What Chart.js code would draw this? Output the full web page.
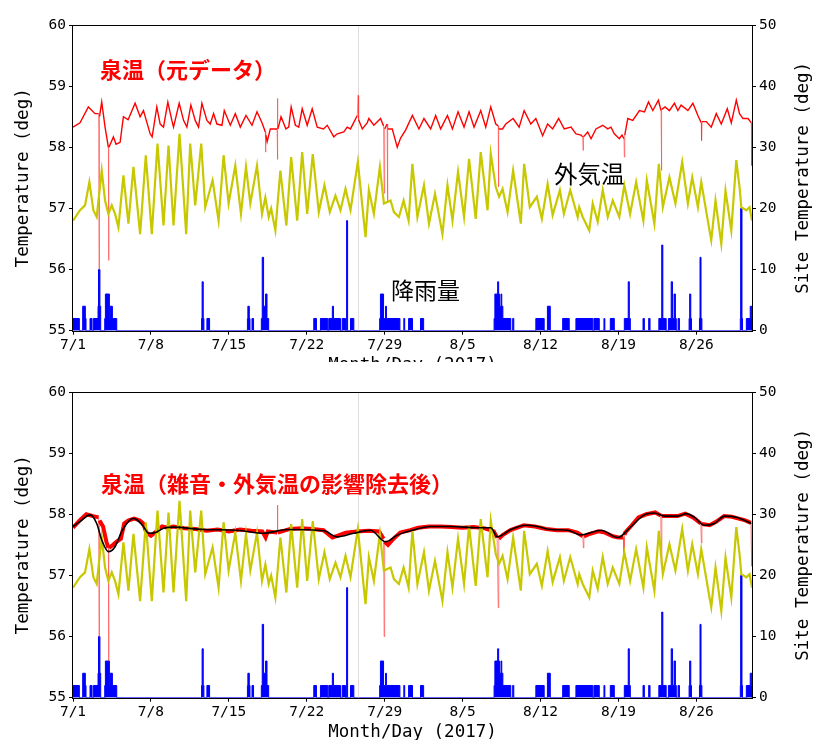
<!DOCTYPE html>
<html><head><meta charset="utf-8">
<script src="https://cdn.jsdelivr.net/npm/chart.js@4.4.1/dist/chart.umd.min.js"></script>
<style>
html,body{margin:0;padding:0;background:#fff;width:815px;height:740px;overflow:hidden}
.wrap{position:absolute;left:0;width:815px;overflow:hidden}
.lbl{position:absolute;white-space:nowrap;font-family:"Noto Sans CJK JP";line-height:1}
</style></head><body>
<div class="wrap" style="top:3px;height:359px"><canvas id="c1" width="815" height="370"></canvas></div>
<div class="wrap" style="top:370px;height:370px"><canvas id="c2" width="815" height="370"></canvas></div>
<div class="lbl" style="left:100px;top:57px;font-size:22px;font-weight:bold;color:#f00">泉温（元データ）</div>
<div class="lbl" style="left:554px;top:162px;font-size:23.5px;color:#000">外気温</div>
<div class="lbl" style="left:391px;top:278px;font-size:23px;color:#000">降雨量</div>
<div class="lbl" style="left:101px;top:471px;font-size:22px;font-weight:bold;color:#f00">泉温（雑音・外気温の影響除去後）</div>
<script>
// ---- data (x = days since 7/1/2017) ----
const tickDays = [0, 7, 14, 21, 28, 35, 42, 49, 56];
const tickLabels = ['7/1', '7/8', '7/15', '7/22', '7/29', '8/5', '8/12', '8/19', '8/26'];
const markerDay = 25.65;

// outside air temperature (right axis)
const airTemp = [
[0.00,18.0],[0.63,19.7],[1.08,20.5],[1.47,24.3],[1.83,19.7],[2.13,18.6],[2.58,26.2],[2.88,21.3],[3.18,19.1],[3.48,20.5],
[3.78,19.1],[4.08,16.9],[4.53,25.4],[4.98,17.5],[5.43,26.8],[6.03,15.8],[6.54,28.7],[7.08,15.8],[7.59,30.6],[8.13,17.2],
[8.58,30.3],[9.03,17.2],[9.57,32.2],[10.17,15.8],[10.53,30.6],[10.98,20.5],[11.52,30.6],[11.88,20.2],[12.54,24.6],[13.08,18.0],
[13.53,28.7],[13.98,20.8],[14.58,27.0],[15.09,19.1],[15.54,26.8],[15.93,20.8],[16.53,27.0],[16.98,19.1],[17.28,21.8],[17.58,18.6],
[17.80,20.0],[18.18,16.4],[18.63,26.2],[19.17,17.2],[19.60,28.4],[20.14,18.0],[20.59,29.2],[21.04,19.1],[21.54,28.9],[22.08,19.4],
[22.59,23.8],[23.07,19.4],[23.58,22.1],[24.03,19.7],[24.48,23.2],[24.93,19.7],[25.59,27.6],[26.28,15.3],[26.58,23.0],[27.03,19.1],
[27.57,26.8],[27.93,20.8],[28.53,21.3],[28.83,19.4],[29.28,18.6],[29.70,21.3],[30.15,18.0],[30.49,27.3],[30.94,18.6],[31.53,23.8],
[31.98,17.5],[32.52,22.4],[33.19,15.8],[33.64,23.8],[34.09,18.0],[34.59,26.0],[35.13,18.6],[35.58,28.1],[36.18,18.3],[36.63,29.2],
[37.24,19.7],[37.53,29.0],[37.98,23.5],[38.28,21.9],[38.59,23.2],[39.04,19.4],[39.54,26.2],[40.23,17.5],[40.53,27.3],[41.04,20.2],
[41.67,21.9],[42.12,18.3],[42.64,24.0],[43.09,18.9],[43.74,23.0],[44.10,19.1],[44.67,23.0],[45.34,18.6],[45.48,20.2],[45.79,18.6],
[46.38,16.4],[46.69,20.8],[47.14,17.8],[47.59,23.0],[48.04,18.6],[48.49,21.3],[49.08,18.6],[49.53,23.8],[50.05,19.1],[50.59,24.3],
[51.24,18.0],[51.55,24.6],[52.23,17.5],[52.63,27.3],[52.99,20.2],[53.58,25.1],[54.12,20.8],[54.73,27.6],[55.24,20.8],[55.63,25.1],
[56.14,20.2],[56.44,24.3],[57.18,16.4],[57.34,14.8],[57.72,21.3],[58.24,14.2],[58.62,22.9],[59.14,16.4],[59.59,27.9],[59.88,23.5],
[60.04,20.2],[60.49,19.7],[60.78,20.2],[61.00,18.0]
];

// spring temperature, raw (left axis, top panel)
const springRaw = [
[0.00,58.33],[0.63,58.40],[1.38,58.66],[1.98,58.55],[2.30,58.55],[2.34,56.00],[2.38,58.50],[2.58,58.74],[2.88,58.33],[3.18,58.00],
[3.20,56.15],[3.23,58.00],[3.63,58.17],[3.87,58.05],[4.23,58.08],[4.53,58.50],[4.95,58.45],[5.58,58.72],[6.03,58.50],[6.33,58.60],
[6.93,58.22],[7.11,58.17],[7.53,58.66],[7.83,58.38],[8.13,58.33],[8.52,58.74],[8.88,58.44],[9.03,58.33],[9.54,58.72],[9.93,58.44],
[10.23,58.33],[10.59,58.69],[10.98,58.44],[11.28,58.33],[11.58,58.72],[12.03,58.44],[12.33,58.38],[12.63,58.55],[12.93,58.38],[13.38,58.36],
[13.59,58.60],[14.13,58.36],[14.58,58.55],[15.03,58.33],[15.54,58.52],[16.08,58.36],[16.53,58.58],[16.98,58.40],[17.28,58.25],[17.30,57.92],
[17.33,58.20],[17.44,58.09],[17.73,58.30],[18.33,58.30],[18.36,58.80],[18.38,57.80],[18.41,58.30],[18.69,58.50],[19.13,58.30],[19.38,58.33],
[19.60,58.66],[19.98,58.36],[20.28,58.33],[20.59,58.63],[21.04,58.36],[21.49,58.63],[21.94,58.33],[22.50,58.30],[22.84,58.36],[23.43,58.17],
[23.74,58.22],[24.33,58.25],[24.63,58.33],[24.93,58.30],[25.54,58.52],[25.62,58.85],[25.66,58.45],[25.99,58.30],[26.43,58.40],[26.58,58.47],
[27.03,58.36],[27.63,58.47],[27.90,58.35],[27.95,57.25],[28.00,58.30],[28.22,58.38],[28.25,57.10],[28.29,58.30],[28.68,58.30],[29.13,58.00],
[29.43,58.15],[29.88,58.28],[30.49,58.52],[31.08,58.30],[31.53,58.47],[32.13,58.30],[32.58,58.52],[33.03,58.30],[33.64,58.52],[34.09,58.30],
[34.59,58.58],[35.13,58.33],[35.58,58.58],[36.03,58.33],[36.63,58.60],[37.08,58.33],[37.53,58.66],[37.98,58.38],[38.20,58.35],[38.22,57.35],
[38.26,58.30],[38.59,58.30],[38.88,58.38],[39.54,58.47],[40.08,58.33],[40.53,58.60],[41.13,58.38],[41.58,58.47],[42.19,58.19],[42.64,58.38],
[43.09,58.30],[43.63,58.47],[44.13,58.30],[44.74,58.33],[45.19,58.22],[45.64,58.20],[45.79,58.17],[45.82,57.95],[45.86,58.17],[46.24,58.25],
[46.54,58.14],[46.98,58.30],[47.59,58.36],[48.04,58.30],[48.33,58.33],[48.63,58.22],[49.08,58.14],[49.32,58.20],[49.50,58.14],[49.53,57.84],
[49.57,58.20],[49.84,58.47],[50.29,58.44],[50.89,58.60],[51.34,58.58],[51.70,58.74],[52.09,58.60],[52.59,58.77],[52.83,58.60],[52.86,57.62],
[52.90,58.62],[53.19,58.66],[53.58,58.60],[54.03,58.72],[54.34,58.60],[54.63,58.69],[55.24,58.60],[55.69,58.72],[56.14,58.52],[56.44,58.40],
[56.47,58.11],[56.51,58.42],[56.89,58.42],[57.34,58.33],[57.79,58.55],[58.24,58.38],[58.78,58.63],[59.14,58.40],[59.59,58.77],[59.88,58.55],
[60.19,58.47],[60.64,58.47],[60.94,58.40],[60.98,57.70],[61.00,58.00]
];

// spring temperature after noise / air-temperature correction (left axis, bottom panel)
const springFixed = [
[0.00,57.78],[0.60,57.90],[1.20,58.00],[1.80,57.97],[2.30,57.95],[2.34,56.00],[2.38,57.90],[2.70,57.80],[3.00,57.55],[3.18,57.45],
[3.20,55.60],[3.23,57.45],[3.60,57.50],[3.90,57.55],[4.30,57.60],[4.60,57.85],[5.00,57.90],[5.50,57.93],[6.00,57.90],[6.30,57.85],
[6.60,57.70],[7.00,57.65],[7.50,57.72],[8.00,57.80],[8.50,57.78],[9.00,57.80],[10.0,57.77],[11.0,57.76],[12.0,57.73],[13.0,57.75],
[14.0,57.72],[15.0,57.75],[16.0,57.73],[17.0,57.72],[17.30,57.62],[17.50,57.72],[18.35,57.70],[18.37,58.15],[18.40,57.70],[19.5,57.76],
[20.5,57.77],[21.5,57.76],[22.5,57.74],[23.3,57.62],[23.8,57.65],[24.5,57.70],[25.5,57.72],[26.5,57.73],[27.5,57.72],[27.90,57.60],
[27.95,56.00],[28.00,57.55],[28.30,57.50],[28.8,57.60],[29.4,57.70],[30.3,57.74],[31.0,57.78],[32.0,57.80],[33.0,57.80],[34.0,57.79],
[35.0,57.78],[36.0,57.79],[37.0,57.77],[37.8,57.72],[38.10,57.62],[38.20,56.47],[38.25,57.60],[38.6,57.66],[39.3,57.74],[40.5,57.82],
[41.5,57.80],[42.5,57.76],[43.5,57.74],[44.5,57.74],[45.3,57.70],[45.8,57.64],[45.85,57.45],[45.9,57.64],[46.3,57.67],[47.2,57.72],
[47.8,57.70],[48.5,57.64],[49.0,57.62],[49.45,57.62],[49.50,57.30],[49.55,57.66],[49.60,57.70],[50.2,57.82],[50.8,57.95],[51.5,58.00],
[52.3,58.03],[52.8,57.98],[52.86,57.14],[52.90,57.97],[53.5,57.97],[54.3,57.97],[55.0,58.01],[55.7,57.95],[56.40,57.85],[56.45,57.53],
[56.50,57.84],[57.2,57.82],[57.8,57.88],[58.5,57.97],[59.2,57.96],[59.8,57.93],[60.4,57.90],[60.9,57.86],[60.97,57.15],[61.00,57.85]
];

// smoothed trend (black line, bottom panel)
const springTrend = [
[0.00,57.80],[0.63,57.88],[1.53,57.99],[2.13,57.85],[2.58,57.58],[3.18,57.39],[3.78,57.47],[4.38,57.72],[5.13,57.91],[5.43,57.93],
[5.73,57.91],[6.33,57.80],[6.78,57.69],[7.38,57.70],[8.13,57.77],[9.03,57.79],[11.73,57.75],[14.73,57.74],[17.13,57.69],[19.23,57.75],
[22.53,57.73],[23.74,57.63],[25.23,57.69],[26.73,57.74],[28.08,57.55],[29.14,57.66],[30.33,57.73],[32.13,57.80],[33.93,57.80],[36.34,57.78],
[37.53,57.78],[38.13,57.63],[39.33,57.75],[40.68,57.82],[41.74,57.80],[42.93,57.75],[44.44,57.74],[45.64,57.66],[47.44,57.74],[48.94,57.62],
[50.14,57.80],[51.33,57.99],[52.23,58.02],[53.13,57.97],[54.34,57.97],[55.09,58.01],[55.83,57.95],[56.73,57.82],[57.63,57.85],[58.53,57.97],
[59.59,57.95],[60.94,57.85]
];

// rainfall in mm (right axis): [start day, mm held until next entry]
const rainSteps = [
[0,2],[0.57,0],[0.87,4],[1.11,2],[1.17,0],[1.53,2],[1.71,0],[1.83,2],[2.25,4],[2.29,10],[2.42,4],[2.49,0],
[2.85,2],[2.91,6],[3.27,2],[3.33,4],[3.54,2],[3.93,0],
[11.55,2],[11.6,8],[11.7,2],[11.76,0],[12.03,2],[12.27,0],
[15.67,2],[15.71,4],[15.84,2],[15.9,0],[16.08,2],[16.22,0],
[16.92,2],[17.0,12],[17.12,4],[17.3,6],[17.43,2],[17.58,0],
[21.63,2],[21.87,0],[22.23,2],[22.89,0],[22.98,2],[23.3,4],[23.4,2],[24.03,0],[24.18,2],[24.48,0],[24.58,18],[24.67,0],[24.93,2],[25.23,0],
[27.55,2],[27.62,6],[27.9,2],[28.08,4],[28.16,2],[29.37,0],[29.72,2],[29.8,0],[30.15,2],[30.5,0],[31.22,2],[31.5,0],
[37.83,2],[37.9,6],[38.15,8],[38.24,6],[38.32,4],[38.45,6],[38.52,4],[38.62,2],[39.33,0],[39.5,2],[39.6,0],
[41.58,2],[42.33,0],[42.62,4],[42.88,0],[43.99,2],[44.58,0],
[45.18,2],[46.7,0],[46.8,2],[47.28,0],[47.7,2],[47.78,0],[48.27,2],[48.63,0],
[49.53,2],[49.88,8],[49.98,2],[50.07,0],[51.21,2],[51.33,0],[51.72,2],[51.84,0],
[52.63,2],[52.89,14],[52.99,2],[53.29,0],
[53.49,2],[53.74,8],[53.86,2],[54.0,6],[54.12,2],[54.2,0],[54.36,2],[54.48,0],
[55.35,2],[55.4,6],[55.5,2],[55.56,0],[56.28,2],[56.33,12],[56.42,2],[56.5,0],
[59.95,2],[59.98,20],[60.1,2],[60.15,0],[60.49,2],[60.84,4],[60.98,2],[61,0]
];

// ---- chart building ----
const pts = arr => arr.map(p => ({x: p[0], y: p[1]}));
const MONO = 'DejaVu Sans Mono';

const framePlugin = {
  id: 'frame',
  afterDatasetsDraw(chart) {
    const {ctx, chartArea: a} = chart;
    ctx.save();
    ctx.strokeStyle = '#000';
    ctx.lineWidth = 1;
    const l = Math.round(a.left) - 0.5, t = Math.round(a.top) + 0.5;
    const r = Math.round(a.right) + 0.5, b = Math.round(a.bottom) + 0.5;
    ctx.strokeRect(l, t, r - l, b - t);
    ctx.restore();
  },
  afterDraw(chart) {
    const {ctx, chartArea: a} = chart;
    ctx.save();
    ctx.translate(803, (a.top + a.bottom) / 2);
    ctx.rotate(-Math.PI / 2);
    ctx.font = '17.5px "' + MONO + '"';
    ctx.fillStyle = '#000';
    ctx.textAlign = 'center';
    ctx.textBaseline = 'middle';
    ctx.fillText('Site Temperature (deg)', 0, 0);
    ctx.restore();
  }
};

// short, steep segments are isolated sensor spikes: draw them thin and light
const isSpike = c => Math.abs(c.p1.x - c.p0.x) < 1.2 && Math.abs(c.p1.y - c.p0.y) > 6;
function spikeSeg(base, color) {
  return {
    borderWidth: c => isSpike(c) ? 1 : base,
    borderColor: c => isSpike(c) ? 'rgba(255,40,40,0.55)' : color
  };
}

function makeChart(id, redSeries, redWidth, trend) {
  const datasets = [];
  if (trend) {
    datasets.push({data: pts(trend), borderColor: '#000', borderWidth: 1.6, yAxisID: 'y',
      cubicInterpolationMode: 'monotone', pointRadius: 0});
  }
  datasets.push({data: pts(airTemp), borderColor: '#c8c800', borderWidth: 2.2, yAxisID: 'y2', pointRadius: 0});
  datasets.push({data: pts(redSeries), borderColor: '#ff0000', borderWidth: redWidth, yAxisID: 'y',
    pointRadius: 0, segment: spikeSeg(redWidth, '#ff0000')});
  datasets.push({data: [{x: markerDay, y: 55}, {x: markerDay, y: 60}], borderColor: '#e2dcdc',
    borderWidth: 1, yAxisID: 'y', pointRadius: 0});
  datasets.push({data: pts(rainSteps), stepped: true, fill: 'origin', backgroundColor: '#0000ff',
    borderColor: '#0000ff', borderWidth: 1, yAxisID: 'y2', pointRadius: 0});

  const tickFont = {family: MONO, size: 14.5};
  const tickGrid = {display: true, drawOnChartArea: false, drawTicks: true, tickLength: 4, color: '#000', tickColor: '#000', tickWidth: 1};
  return new Chart(document.getElementById(id), {
    type: 'line',
    data: {datasets},
    options: {
      responsive: false, animation: false, events: [],
      layout: {padding: {top: 22, left: 0, right: 0, bottom: 0}},
      plugins: {legend: {display: false}, tooltip: {enabled: false}},
      scales: {
        x: {
          type: 'linear', min: 0, max: 61,
          afterBuildTicks: s => { s.ticks = tickDays.map(v => ({value: v})); },
          afterFit: s => { s.height = 42.3; },
          grid: tickGrid, border: {display: false},
          ticks: {callback: (v, i) => tickLabels[i], font: tickFont, color: '#000', padding: 2, maxRotation: 0, autoSkip: false},
          title: {display: true, text: 'Month/Day (2017)', font: {family: MONO, size: 17.5}, color: '#000', padding: {top: 0, bottom: -3}}
        },
        y: {
          position: 'left', min: 55, max: 60,
          afterFit: s => { s.width = 73; },
          grid: tickGrid, border: {display: false},
          ticks: {stepSize: 1, font: tickFont, color: '#000', padding: 3},
          title: {display: true, text: 'Temperature (deg)', font: {family: MONO, size: 17.5}, color: '#000', padding: {top: 13, bottom: 0}}
        },
        y2: {
          position: 'right', min: 0, max: 50,
          afterFit: s => { s.width = 63; },
          grid: tickGrid, border: {display: false},
          ticks: {stepSize: 10, font: tickFont, color: '#000', padding: 3}
        }
      }
    },
    plugins: [framePlugin]
  });
}

makeChart('c1', springRaw, 1.4, null);
makeChart('c2', springFixed, 4, springTrend);
</script>
</body></html>
